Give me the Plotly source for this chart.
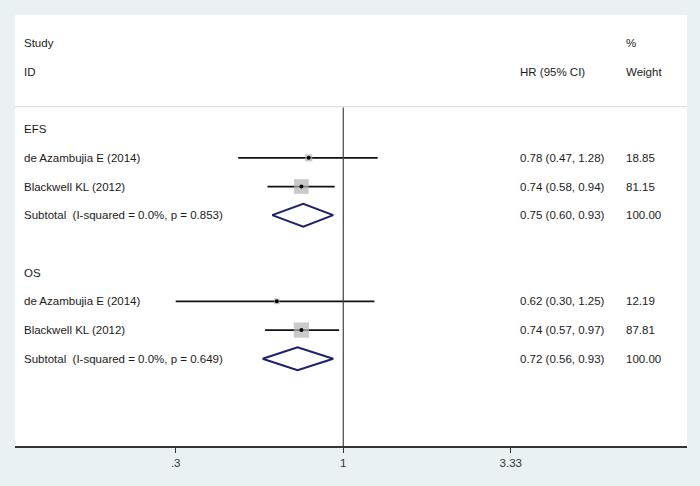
import plotly.graph_objects as go

# study rows (row index counts from the top, Stata forest layout)
study_labels = ["de Azambujia E (2014)", "Blackwell KL (2012)",
                "de Azambujia E (2014)", "Blackwell KL (2012)"]
study_rows = [4, 5, 9, 10]
study_hr = [0.78, 0.74, 0.62, 0.74]
study_lo = [0.47, 0.58, 0.30, 0.57]
study_hi = [1.28, 0.94, 1.25, 0.97]
study_weight = [18.85, 81.15, 12.19, 87.81]

group_labels = ["EFS", "OS"]
group_rows = [3, 8]

sub_labels = ["Subtotal  (I-squared = 0.0%, p = 0.853)",
              "Subtotal  (I-squared = 0.0%, p = 0.649)"]
sub_rows = [6, 11]
sub_hr = [0.75, 0.72]
sub_lo = [0.60, 0.56]
sub_hi = [0.93, 0.93]
sub_weight = [100.00, 100.00]

tick_vals = [0.3, 1, 3.33]
tick_text = [".3", "1", "3.33"]

BG = "#eaf1f3"
FONT = "Liberation Sans, Arial, sans-serif"
TXT = "#1a1a1a"
X_LABEL = 0.010
X_HR = 0.749
X_WT = 0.906

fig = go.Figure()

# confidence intervals
for r, lo, hi in zip(study_rows, study_lo, study_hi):
    fig.add_trace(go.Scatter(x=[lo, hi], y=[r, r], mode="lines",
                             line=dict(color="#111111", width=1.7),
                             hoverinfo="skip", showlegend=False))

# weight boxes (area ~ weight)
fig.add_trace(go.Scatter(
    x=study_hr, y=study_rows, mode="markers",
    marker=dict(symbol="square", size=[1.63 * w ** 0.5 for w in study_weight],
                color="#b4b4b4", line=dict(width=0)),
    hoverinfo="skip", showlegend=False))
fig.add_trace(go.Scatter(
    x=study_hr, y=study_rows, mode="markers",
    marker=dict(symbol="circle", size=4, color="#000000"),
    hoverinfo="skip", showlegend=False))

# subtotal diamonds
for r, est, lo, hi in zip(sub_rows, sub_hr, sub_lo, sub_hi):
    fig.add_trace(go.Scatter(
        x=[lo, est, hi, est, lo], y=[r, r - 0.4, r, r + 0.4, r],
        mode="lines", line=dict(color="#1b1f6e", width=1.9),
        hoverinfo="skip", showlegend=False))

# null line
fig.add_shape(type="line", x0=1, x1=1, y0=2.25, y1=14.05, xref="x", yref="y",
              line=dict(color="#444444", width=1.2))
# header separator
fig.add_shape(type="line", x0=0, x1=1, y0=2.22, y1=2.22, xref="paper", yref="y",
              line=dict(color="#d4d8da", width=1.2))


def txt(x, y, s):
    fig.add_annotation(x=x, y=y, xref="paper", yref="y", text=s, showarrow=False,
                       xanchor="left", yanchor="middle",
                       font=dict(family=FONT, size=11.5, color=TXT))


txt(X_LABEL, 0, "Study")
txt(X_LABEL, 1, "ID")
txt(X_HR, 1, "HR (95% CI)")
txt(X_WT, 0, "%")
txt(X_WT, 1, "Weight")

for lab, r in zip(group_labels, group_rows):
    txt(X_LABEL, r, lab)
for lab, r, est, lo, hi, w in zip(study_labels, study_rows, study_hr,
                                  study_lo, study_hi, study_weight):
    txt(X_LABEL, r, lab)
    txt(X_HR, r, f"{est:.2f} ({lo:.2f}, {hi:.2f})")
    txt(X_WT, r, f"{w:.2f}")
for lab, r, est, lo, hi, w in zip(sub_labels, sub_rows, sub_hr,
                                  sub_lo, sub_hi, sub_weight):
    txt(X_LABEL, r, lab)
    txt(X_HR, r, f"{est:.2f} ({lo:.2f}, {hi:.2f})")
    txt(X_WT, r, f"{w:.2f}")

fig.update_layout(
    width=700, height=486,
    margin=dict(l=15, r=13, t=15, b=40),
    paper_bgcolor=BG, plot_bgcolor="#ffffff",
    showlegend=False,
    font=dict(family=FONT, size=11.5, color=TXT),
)
fig.update_xaxes(
    type="log", range=[-1.0243, 1.0724],
    tickvals=tick_vals, ticktext=tick_text,
    ticks="outside", ticklen=5, tickcolor="#333333", tickwidth=1,
    showline=True, linecolor="#333333", linewidth=1.5,
    showgrid=False, zeroline=False,
    tickfont=dict(family=FONT, size=11.5, color="#333333"),
)
fig.update_yaxes(
    range=[14.04, -0.976], showgrid=False, zeroline=False,
    showticklabels=False, showline=False,
)

fig.write_html(
    "out.html",
    config={"displayModeBar": False},
    post_script="document.body.style.margin='0';"
                "document.body.style.background='%s';" % BG,
)
